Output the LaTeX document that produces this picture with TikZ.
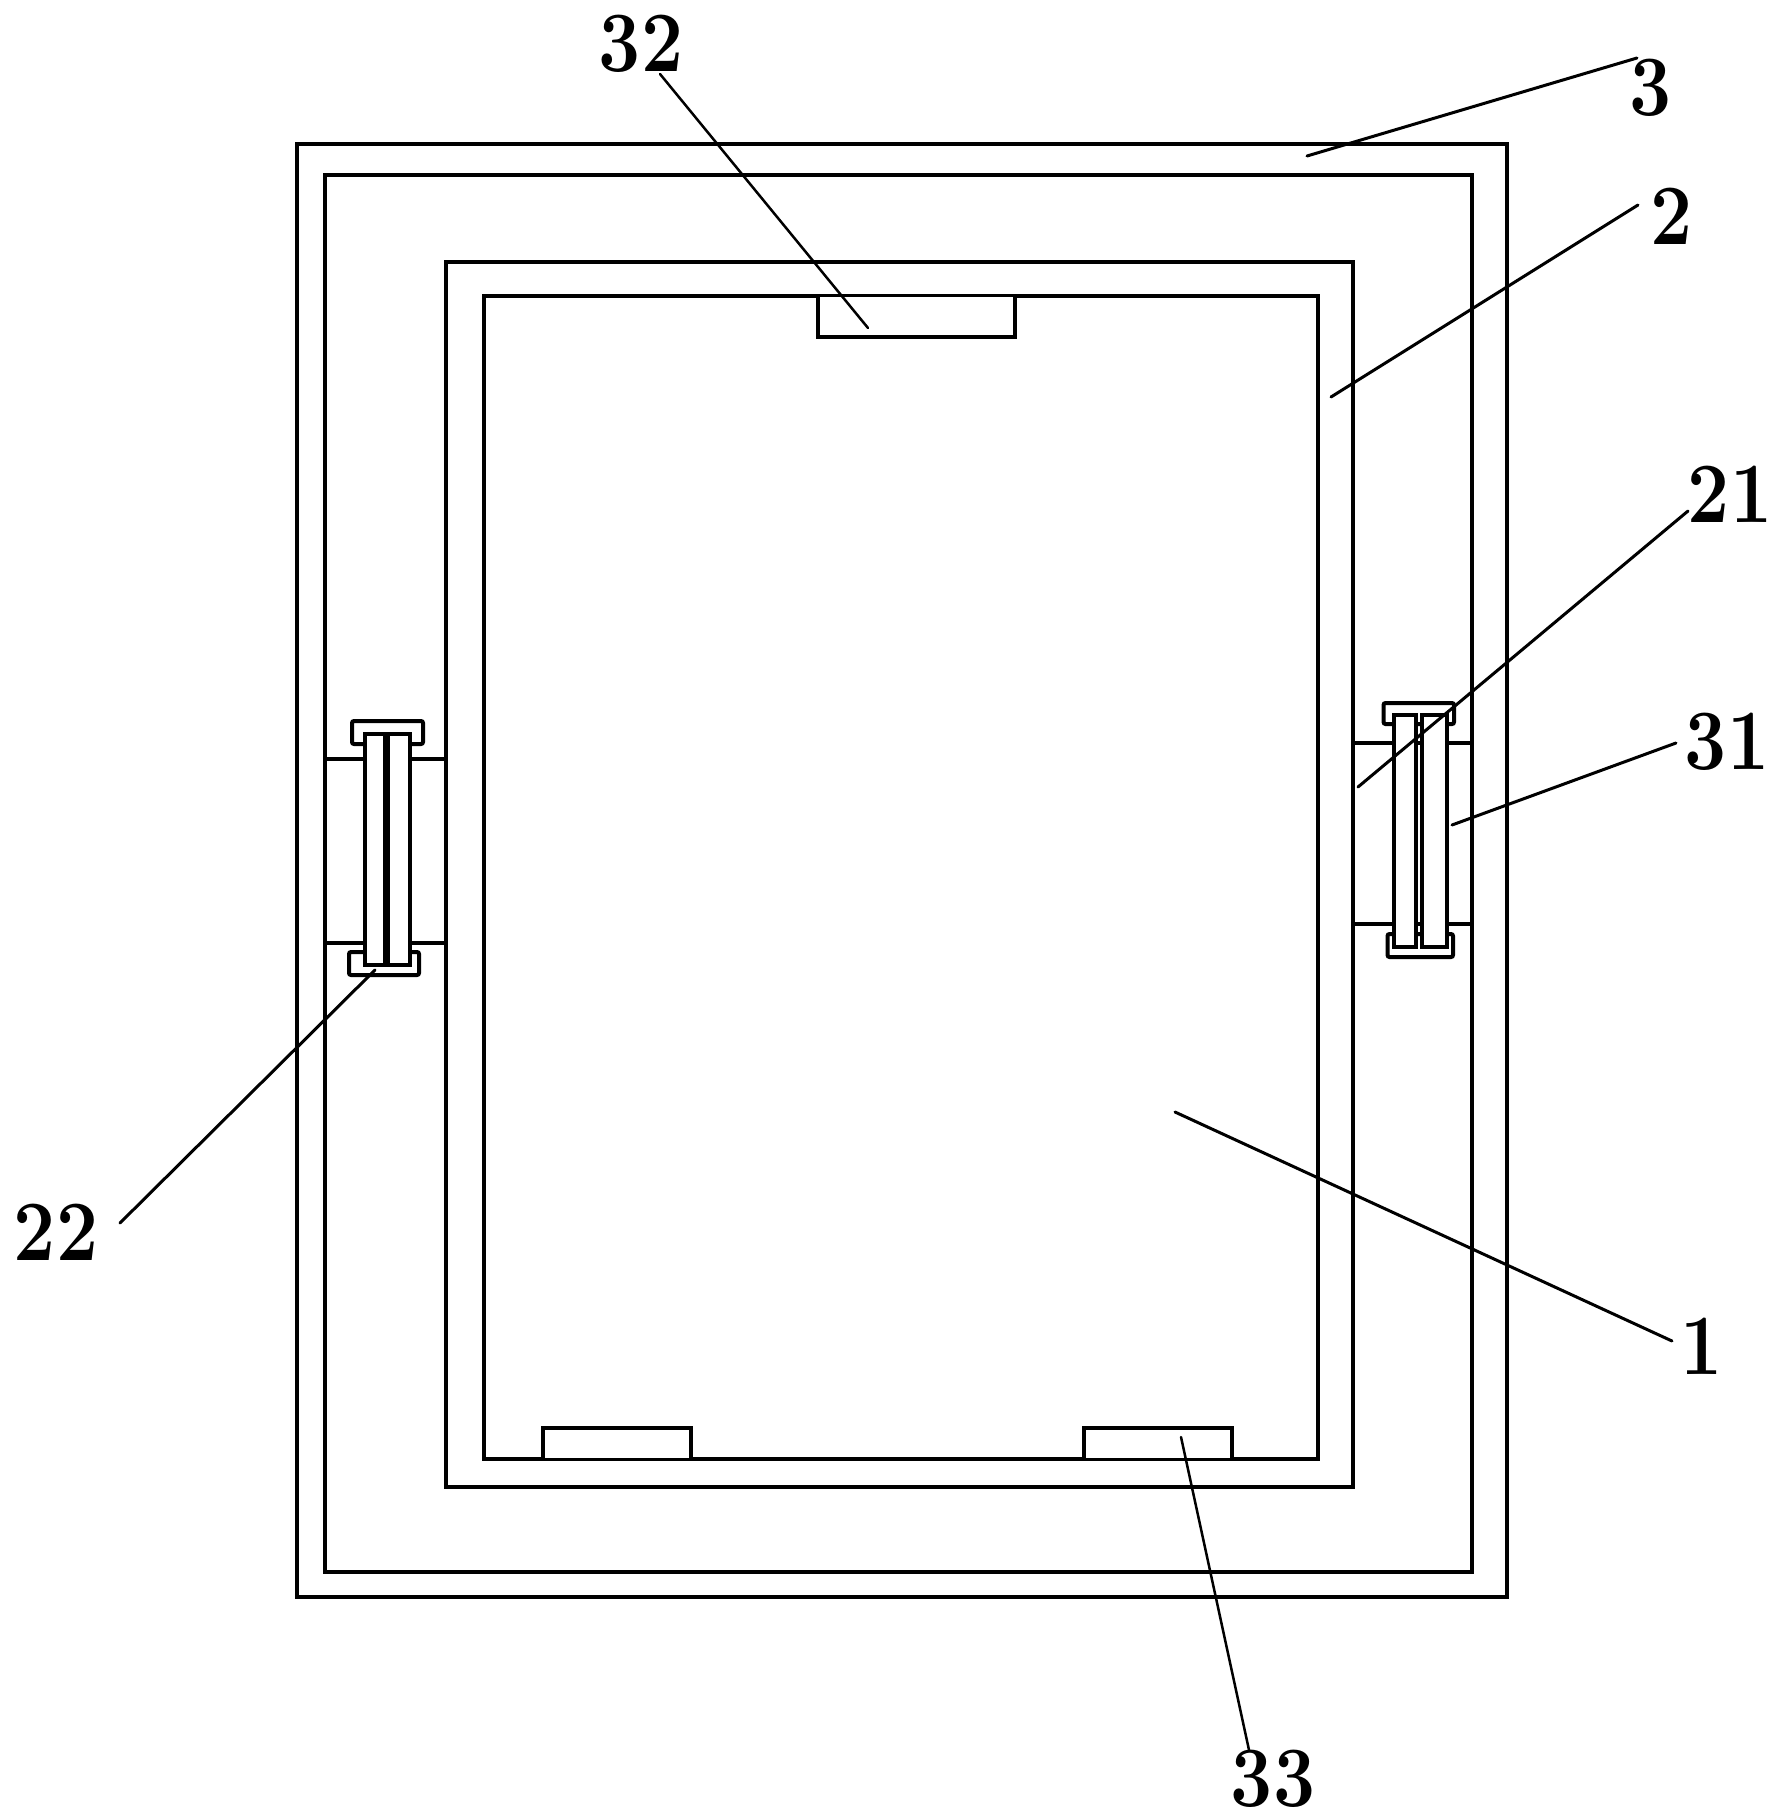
\documentclass[tikz,border=0pt]{standalone}
\usepackage{graphicx}
\tikzset{
  part/.style={draw=black,line width=4pt,fill=white,line join=miter},
  hingecap/.style={draw=black,line width=4pt,fill=white,rounded corners=2pt},
  tie/.style={draw=black,line width=4pt},
  leader/.style={draw=black,line width=3pt,line cap=round},
  thinleader/.style={draw=black,line width=2.5pt,line cap=round},
  lbl/.style={inner sep=0pt,outer sep=0pt,anchor=center,text=black,font=\fontsize{86}{86}\selectfont\bfseries}
}
\newcommand{\numtext}[1]{\scalebox{0.87}[1]{#1}}
\begin{document}
\begin{tikzpicture}[x=1pt,y=-1pt]
\useasboundingbox (0,0) rectangle (1779,1818);
% frames
\draw[part] (297,143.5) rectangle (1507,1597);
\draw[part] (325,174.5) rectangle (1472,1572);
\draw[part] (446,261.5) rectangle (1353,1487);
\draw[part] (484,296) rectangle (1318,1459);
% clips on the inner frame
\draw[part] (818,297) -- (818,337) -- (1015,337) -- (1015,297);
\draw[part] (543,1458) -- (543,1428) -- (691,1428) -- (691,1458);
\draw[part] (1084,1458) -- (1084,1428) -- (1232,1428) -- (1232,1458);
% right hinge
\draw[tie] (1353,743) -- (1472,743);
\draw[tie] (1353,924) -- (1472,924);
\draw[hingecap] (1383.5,703) rectangle (1454,724);
\draw[hingecap] (1387.5,934) rectangle (1453,957);
\draw[part] (1393.5,715) rectangle (1415.5,947);
\draw[part] (1421.5,715) rectangle (1446.5,947);
% left hinge
\draw[tie] (325,759) -- (446,759);
\draw[tie] (325,943) -- (446,943);
\draw[hingecap] (352,721) rectangle (423,744);
\draw[hingecap] (349,952) rectangle (419,975);
\draw[part] (365,734) rectangle (410,965);
\draw[draw=black,line width=7pt] (386,734) -- (386,965);
% labels
\node[lbl] (n32) at (641,44) {\numtext{32}};
\node[lbl] (n3)  at (1651,88) {\numtext{3}};
\node[lbl] (n2)  at (1672,216.5) {\numtext{2}};
\node[lbl] (n21) at (1730,494.5) {\numtext{21}};
\node[lbl] (n31) at (1727,742) {\numtext{31}};
\node[lbl] (n1)  at (1702,1346) {\numtext{1}};
\node[lbl] (n22) at (56,1232.5) {\numtext{22}};
\node[lbl] (n33) at (1273,1779) {\numtext{33}};
% leader ends
\coordinate (a32) at (660,74);    \coordinate (b32) at (868,328);
\coordinate (a3)  at (1637,58);   \coordinate (b3)  at (1307,156);
\coordinate (a2)  at (1638,205);  \coordinate (b2)  at (1331,397);
\coordinate (a21) at (1688,511);  \coordinate (b21) at (1358,787);
\coordinate (a31) at (1676,743);  \coordinate (b31) at (1452,825);
\coordinate (a1)  at (1672,1341); \coordinate (b1)  at (1175,1112);
\coordinate (a22) at (120,1223);  \coordinate (b22) at (375,970);
\coordinate (a33) at (1249,1750); \coordinate (b33) at (1181,1437);
% leaders
\draw[thinleader] (a32) -- (b32);
\draw[leader] (a3) -- (b3);
\draw[leader] (a2) -- (b2);
\draw[leader] (a21) -- (b21);
\draw[leader] (a31) -- (b31);
\draw[leader] (a1) -- (b1);
\draw[leader] (a22) -- (b22);
\draw[thinleader] (a33) -- (b33);
\end{tikzpicture}
\end{document}
